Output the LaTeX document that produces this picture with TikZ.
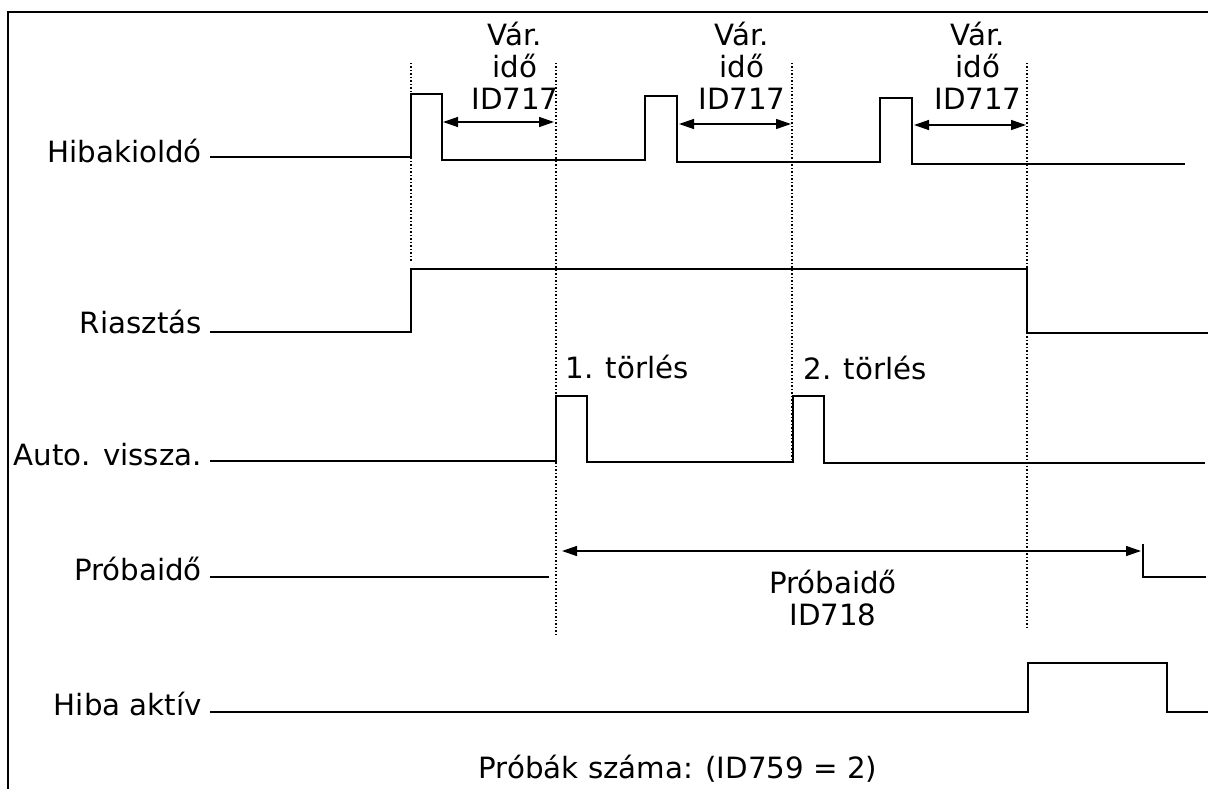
\documentclass[tikz,border=0pt]{standalone}
\usepackage{fontspec}
\setmainfont{DejaVu Sans}
\usetikzlibrary{arrows.meta}
\begin{document}
\begin{tikzpicture}[x=1pt,y=-1pt,
  signal/.style={line width=1.6pt,line join=miter},
  guide/.style={line width=1.2pt,dash pattern=on 1.5pt off 2pt},
  span/.style={line width=1.4pt,{Triangle[length=15pt,width=10pt]}-{Triangle[length=15pt,width=10pt]}},
  lbl/.style={inner sep=0pt,anchor=base east},
  txt/.style={inner sep=0pt,anchor=base},
  mtxt/.style={inner sep=0pt,align=center},
  every node/.style={font=\fontsize{29.3}{32}\selectfont}]
\useasboundingbox (0,0) rectangle (1208,789);
% frame
\draw[line width=1.3pt] (8,789) -- (8,12) -- (1208,12);
% signal labels
\node[lbl] (hk) at (202,163) {Hibakioldó};
\node[lbl] (ri) at (202,333) {Riasztás};
\node[lbl] (av) at (202,465) {Auto. vissza.};
\node[lbl] (pi) at (202,580) {Próbaidő};
\node[lbl] (ha) at (202,715) {Hiba aktív};
% guide lines
\coordinate (g1t) at (411,63); \coordinate (g1b) at (411,262);
\coordinate (g2t) at (556,63); \coordinate (g2b) at (556,637);
\coordinate (g3t) at (792,63); \coordinate (g3b) at (792,462);
\coordinate (g4t) at (1027,63); \coordinate (g4b) at (1027,630);
\draw[guide] (g1t) -- (g1b);
\draw[guide] (g2t) -- (g2b);
\draw[guide] (g3t) -- (g3b);
\draw[guide] (g4t) -- (g4b);
% waveforms
\draw[signal] (210,157) -- (411,157) -- (411,94) -- (442,94) -- (442,160) -- (645,160) -- (645,96) -- (677,96) -- (677,162) -- (880,162) -- (880,98) -- (912,98) -- (912,164) -- (1185,164);
\draw[signal] (210,332) -- (411,332) -- (411,269) -- (1027,269) -- (1027,333) -- (1208,333);
\draw[signal] (210,461) -- (556,461) -- (556,396) -- (587,396) -- (587,462) -- (793,462) -- (793,396) -- (824,396) -- (824,463) -- (1205,463);
\draw[signal] (210,577) -- (549,577);
\draw[signal] (1143,544) -- (1143,577) -- (1206,577);
\draw[signal] (210,712) -- (1028,712) -- (1028,663) -- (1167,663) -- (1167,712) -- (1208,712);
% wait-time spans
\coordinate (w1a) at (443,122); \coordinate (w1b) at (554,122);
\coordinate (w2a) at (679,124); \coordinate (w2b) at (791,124);
\coordinate (w3a) at (914,125); \coordinate (w3b) at (1026,125);
\draw[span] (w1a) -- (w1b);
\draw[span] (w2a) -- (w2b);
\draw[span] (w3a) -- (w3b);
\node[mtxt] (v1) at (515,66) {Vár.\\idő\\ID717};
\node[mtxt] (v2) at (742,66) {Vár.\\idő\\ID717};
\node[mtxt] (v3) at (978,66) {Vár.\\idő\\ID717};
% trial span
\coordinate (p1) at (562,551); \coordinate (p2) at (1141,551);
\draw[span] (p1) -- (p2);
\node[mtxt] (pt) at (833,598) {Próbaidő\\ID718};
% reset labels
\node[txt] (t1) at (627,378) {1. törlés};
\node[txt] (t2) at (865,379) {2. törlés};
% bottom
\node[txt] (ps) at (678,778) {Próbák száma: (ID759 = 2)};
\end{tikzpicture}
\end{document}
